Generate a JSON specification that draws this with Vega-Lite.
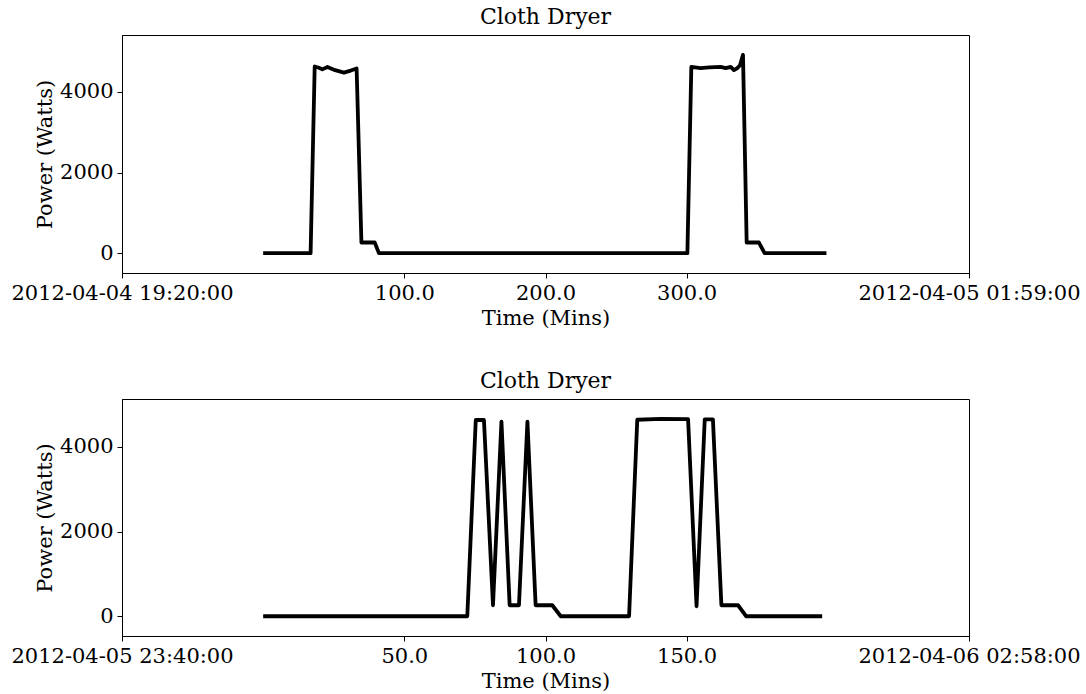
{
  "$schema": "https://vega.github.io/schema/vega-lite/v6.json",
  "padding": {"left": 10, "top": 5, "right": 5, "bottom": 5},
  "config": {
    "font": "DejaVu Serif",
    "view": {"stroke": "black", "strokeWidth": 1},
    "axis": {
      "grid": false,
      "domainColor": "black",
      "tickColor": "black",
      "labelColor": "black",
      "titleColor": "black",
      "labelFontSize": 21,
      "titleFontSize": 21,
      "titleFontWeight": "normal",
      "tickSize": 5,
      "labelPadding": 4,
      "labelLimit": 500,
      "labelFont": "DejaVu Serif",
      "titleFont": "DejaVu Serif"
    },
    "title": {"fontSize": 22, "fontWeight": "normal", "font": "DejaVu Serif", "color": "black", "offset": 6},
    "concat": {"spacing": 40}
  },
  "vconcat": [
    {
      "title": "Cloth Dryer",
      "width": 847,
      "height": 238,
      "data": {"values": [
        {"t": 0, "p": 0},
        {"t": 33.6, "p": 0},
        {"t": 36.5, "p": 4630},
        {"t": 39.5, "p": 4600},
        {"t": 41.9, "p": 4560},
        {"t": 45.5, "p": 4620},
        {"t": 51.0, "p": 4540},
        {"t": 57.2, "p": 4480},
        {"t": 62.0, "p": 4530},
        {"t": 66.2, "p": 4580},
        {"t": 69.6, "p": 264},
        {"t": 79.0, "p": 264},
        {"t": 82.0, "p": 0},
        {"t": 300.5, "p": 0},
        {"t": 303.3, "p": 4620},
        {"t": 309.9, "p": 4590},
        {"t": 316.0, "p": 4610},
        {"t": 324.0, "p": 4620},
        {"t": 327.6, "p": 4590},
        {"t": 331.2, "p": 4620},
        {"t": 333.5, "p": 4540},
        {"t": 335.9, "p": 4590},
        {"t": 337.8, "p": 4660},
        {"t": 339.9, "p": 4920},
        {"t": 342.5, "p": 264},
        {"t": 351.2, "p": 264},
        {"t": 355.2, "p": 0},
        {"t": 399, "p": 0}
      ]},
      "mark": {"type": "line", "color": "black", "strokeWidth": 3.8, "strokeJoin": "round", "clip": true},
      "encoding": {
        "x": {
          "field": "t", "type": "quantitative",
          "scale": {"domain": [-100, 500], "nice": false, "zero": false},
          "axis": {
            "title": "Time (Mins)",
            "values": [-100, 100, 200, 300, 500],
            "labelExpr": "datum.value == -100 ? '2012-04-04 19:20:00' : datum.value == 500 ? '2012-04-05 01:59:00' : format(datum.value, '.1f')",
            "labelOverlap": false,
            "labelFlush": false
          }
        },
        "y": {
          "field": "p", "type": "quantitative",
          "scale": {"domain": [-492, 5412], "nice": false, "zero": false},
          "axis": {"title": "Power (Watts)", "values": [0, 2000, 4000], "format": "d"}
        }
      }
    },
    {
      "title": "Cloth Dryer",
      "width": 847,
      "height": 237,
      "data": {"values": [
        {"t": 0, "p": 0},
        {"t": 72.3, "p": 0},
        {"t": 75.3, "p": 4634},
        {"t": 78.2, "p": 4634},
        {"t": 81.4, "p": 260},
        {"t": 84.4, "p": 4594},
        {"t": 87.3, "p": 260},
        {"t": 90.6, "p": 260},
        {"t": 93.6, "p": 4594},
        {"t": 96.5, "p": 260},
        {"t": 102.4, "p": 260},
        {"t": 105.4, "p": 0},
        {"t": 129.6, "p": 0},
        {"t": 132.5, "p": 4640},
        {"t": 140.8, "p": 4660},
        {"t": 150.5, "p": 4655},
        {"t": 153.5, "p": 236},
        {"t": 156.4, "p": 4650},
        {"t": 159.3, "p": 4650},
        {"t": 162.3, "p": 260},
        {"t": 168.2, "p": 260},
        {"t": 171.1, "p": 0},
        {"t": 198, "p": 0}
      ]},
      "mark": {"type": "line", "color": "black", "strokeWidth": 3.8, "strokeJoin": "round", "clip": true},
      "encoding": {
        "x": {
          "field": "t", "type": "quantitative",
          "scale": {"domain": [-50, 250], "nice": false, "zero": false},
          "axis": {
            "title": "Time (Mins)",
            "values": [-50, 50, 100, 150, 250],
            "labelExpr": "datum.value == -50 ? '2012-04-05 23:40:00' : datum.value == 250 ? '2012-04-06 02:58:00' : format(datum.value, '.1f')",
            "labelOverlap": false,
            "labelFlush": false
          }
        },
        "y": {
          "field": "p", "type": "quantitative",
          "scale": {"domain": [-466, 5130], "nice": false, "zero": false},
          "axis": {"title": "Power (Watts)", "values": [0, 2000, 4000], "format": "d"}
        }
      }
    }
  ]
}
